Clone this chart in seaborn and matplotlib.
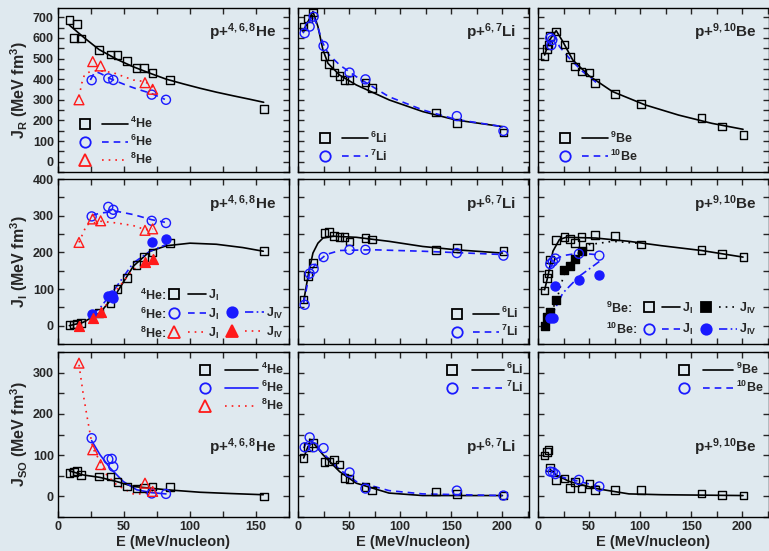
import numpy as np
import matplotlib
matplotlib.use("Agg")
import matplotlib.pyplot as plt
import seaborn as sns
from matplotlib.lines import Line2D
from matplotlib.legend_handler import HandlerTuple
from matplotlib.ticker import MultipleLocator

# ---------------- data: real part J_R ----------------
he4_E = [8.6, 12.1, 14.6, 17.4, 31, 39.9, 45, 52.3, 59.6, 65.2, 71.7, 85, 156]
he4_JR = [686, 600, 667, 597, 541, 520, 517, 489, 453, 453, 431, 396, 254]
he4_JR_fitE = [8.6, 20, 31, 45, 57, 70, 82, 95, 107.6, 120, 133, 145, 155.8]
he4_JR_fit = [662, 600, 544, 495, 460, 428, 400, 377, 356, 337, 319, 303, 288]

he6_E = [25.5, 38.1, 41.9, 71, 81.8]
he6_JR = [395, 404, 396, 325, 300]
he6_JR_fitE = [24.5, 27, 29, 33, 38, 45, 52, 60, 71, 81]
he6_JR_fit = [396, 425, 436, 425, 407, 388, 370, 352, 330, 302]

he8_E = [15.9, 26.3, 32.3, 65.9, 71.7]
he8_JR = [300, 485, 464, 383, 351]
he8_JR_fitE = [16, 18, 20, 24, 29, 35, 42, 50, 57, 66, 72]
he8_JR_fit = [316, 380, 420, 436, 441, 438, 431, 412, 396, 388, 361]

li6_E = [5.5, 9.8, 14.6, 26, 30.2, 35.1, 40.7, 45.5, 50.4, 66, 72.5, 135, 155.4, 201]
li6_JR = [655, 695, 723, 513, 474, 432, 416, 396, 396, 383, 356, 238, 189, 141]
li6_JR_fitE = [4.9, 9.8, 14.6, 19.5, 24.4, 29.3, 40.7, 57, 89.4, 122, 154.5, 200]
li6_JR_fit = [631, 679, 728, 655, 542, 477, 420, 372, 299, 243, 202, 170]

li7_E = [6.5, 11.4, 15.3, 25, 50.4, 66, 155.4, 201]
li7_JR = [623, 655, 703, 561, 432, 399, 221, 149]
li7_JR_fitE = [4.9, 9, 14.6, 19.5, 24.4, 30, 40.7, 57, 89, 122, 154.5, 200]
li7_JR_fit = [623, 660, 711, 650, 574, 520, 469, 412, 315, 251, 205, 170]

be9_E = [6.5, 8.7, 10.4, 12, 17.8, 25.9, 31.4, 36.2, 42.7, 50.2, 55.7, 75.4, 100.6, 160, 180, 201]
be9_JR = [509, 545, 566, 610, 631, 569, 506, 461, 437, 432, 380, 328, 280, 213, 170, 129]
be9_JR_fitE = [6.5, 11.3, 17.8, 24.3, 34, 50, 72.8, 105, 137.5, 170, 200.6]
be9_JR_fit = [517, 590, 635, 582, 493, 416, 340, 275, 226, 186, 157]

be10_E_R = [12, 13, 14]
be10_JR = [600, 565, 590]
be10_JR_fitE = [11.3, 13, 16, 21, 30.7, 43.7, 60]
be10_JR_fit = [558, 590, 614, 558, 501, 437, 372]

# ---------------- data: imaginary part J_I / J_IV ----------------
he4_JI = [1, 3, 5, 7, 35, 60, 100, 130, 165, 187, 200, 225, 203]
he4_JI_fitE = [8.6, 19, 31.8, 44.4, 57, 69.7, 82.3, 100, 120, 140, 155.5]
he4_JI_fit = [0, 9, 35, 89, 162, 203, 218, 225, 222, 213, 203]

he6_EI = [25.5, 38.1, 40.7, 41.9, 71, 81.8]
he6_JI = [298, 324, 305, 316, 286, 280]
he6_JI_fitE = [25.5, 31.8, 44.4, 57, 71, 81]
he6_JI_fit = [300, 307, 312, 303, 289, 282]
he6_JIV = [33, 80, 85, 76, 227, 236]
he6_JIV_fitE = [25.5, 31.8, 44.4, 57, 69.7, 81.8]
he6_JIV_fit = [30, 48, 107, 171, 203, 221]

he8_JI = [227, 291, 286, 260, 264]
he8_JI_fitE = [15.9, 21.7, 31.8, 44.4, 57, 66, 72]
he8_JI_fit = [227, 275, 285, 280, 273, 262, 264]
he8_JIV = [0, 21, 36, 175, 182]
he8_JIV_fitE = [15.9, 31.8, 44.4, 57, 72]
he8_JIV_fit = [3, 32, 98, 153, 185]

li6_JI = [71, 135, 171, 253, 255, 244, 241, 241, 230, 239, 235, 207, 212, 203]
li6_JI_fitE = [5.5, 9.8, 14.6, 19.5, 24.4, 34, 57, 89, 122, 154.5, 200]
li6_JI_fit = [66, 135, 198, 225, 239, 244, 241, 230, 216, 207, 198]

li7_JI = [57, 142, 155, 187, 207, 207, 198, 191]
li7_JI_fitE = [5.5, 11.4, 17.9, 27.6, 40.7, 73, 122, 200]
li7_JI_fit = [62, 144, 171, 194, 205, 207, 203, 194]

be9_JI = [96, 130, 142, 180, 233, 242, 237, 225, 241, 216, 248, 245, 221, 207, 196, 187]
be9_JI_fitE = [6.5, 9.7, 14.6, 21, 27.5, 56.6, 89, 121, 160, 200.6]
be9_JI_fit = [98, 135, 203, 235, 241, 239, 230, 218, 205, 187]
be9_EIV = [6.5, 8.7, 12, 17.8, 25.9, 31.4, 36.2, 42.7]
be9_JIV = [0, 24, 36, 69, 151, 162, 182, 205]
be9_JIV_fitE = [6.5, 17.8, 25.9, 37, 50, 73, 100.6]
be9_JIV_fit = [3, 66, 144, 194, 221, 230, 224]

be10_E = [12, 14.5, 17, 40, 60]
be10_JI = [168, 175, 183, 196, 191]
be10_JI_fitE = [11.3, 16.2, 24.3, 40.5, 60]
be10_JI_fit = [153, 180, 191, 198, 193]
be10_JIV = [21, 22, 107, 125, 139]
be10_JIV_fitE = [12.9, 24.3, 40.5, 60]
be10_JIV_fit = [25, 89, 135, 175]

# ---------------- data: spin-orbit J_SO ----------------
he4_JSO = [56, 59, 62, 52, 48, 48, 35, 24, 19, 20, 24, 22, 0]
he4_JSO_fitE = [8.6, 19, 31.8, 44.4, 57, 82.3, 107.6, 130, 155.5]
he4_JSO_fit = [62, 52, 46, 36, 24, 16, 10, 7, 4]

he6_JSO = [141, 90, 91, 72, 7, 6]
he6_JSO_fitE = [25.5, 31.8, 39.4, 49.5, 59.6, 71, 81.8]
he6_JSO_fit = [135, 101, 69, 36, 16, 9, 6]

he8_JSO = [323, 113, 77, 32, 12]
he8_JSO_fitE = [15.9, 19.2, 22.2, 26.3, 31.8, 36.9, 44.4, 57, 64.6, 71.7]
he8_JSO_fit = [319, 246, 190, 117, 85, 52, 28, 6, 6, 12]

li6_JSO = [93, 119, 129, 83, 85, 89, 77, 44, 42, 22, 14, 12, 6, 2]
li6_JSO_fitE = [5.5, 9.8, 14.6, 24.4, 40.7, 57, 89, 122, 200]
li6_JSO_fit = [93, 121, 131, 101, 60, 32, 8, 2, 2]

li7_JSO = [119, 143, 119, 117, 58, 19, 14, 2]
li7_JSO_fitE = [5.5, 10.7, 15.3, 24.4, 40.7, 57, 89, 122, 200]
li7_JSO_fit = [117, 141, 129, 105, 65, 36, 14, 6, 2]

be9_JSO = [99, 107, 113, 70, 40, 43, 20, 35, 19, 30, 16, 15, 15, 7, 3, 2]
be9_JSO_fitE = [12, 17.8, 30.7, 56.6, 89, 121, 200.6]
be9_JSO_fit = [65, 52, 36, 19, 6, 4, 2]

be10_JSO = [60, 59, 54, 40, 24]
be10_JSO_fitE = [11.3, 24.3, 40.5, 60]
be10_JSO_fit = [62, 46, 36, 24]

# ---------------- style ----------------
sns.set_theme(style="ticks")
plt.rcParams["font.family"] = ["Liberation Sans", "DejaVu Sans"]
plt.rcParams["font.weight"] = "bold"
plt.rcParams["mathtext.fontset"] = "custom"
plt.rcParams["mathtext.rm"] = "Liberation Sans:bold"
plt.rcParams["mathtext.bf"] = "Liberation Sans:bold"
plt.rcParams["mathtext.it"] = "Liberation Sans:bold"
plt.rcParams["mathtext.default"] = "bf"

BG = "#dfe9ef"
BLUE = "#1a1aff"
RED = "#ff1a1a"
DASH = (0, (4, 3))
DOT = (0, (1, 3))
DASHDOT = (0, (5, 2, 1, 2))
MS = {"s": 30, "o": 42, "^": 50}

fig = plt.figure(figsize=(7.69, 5.51), dpi=100, facecolor=BG)

W, H = 769, 551
col_left = [58, 298, 538]
col_w = 231
row_top = [8, 179, 352]
row_bot = [172, 344, 517]

axes = [[None] * 3 for _ in range(3)]
for r in range(3):
    for c in range(3):
        ax = fig.add_axes([col_left[c] / W, 1 - row_bot[r] / H, col_w / W,
                           (row_bot[r] - row_top[r]) / H])
        ax.set_facecolor("none")
        axes[r][c] = ax


def series(ax, E, J, fE, fJ, color, marker, ls, filled=False):
    sns.lineplot(x=fE, y=fJ, ax=ax, color=color, linestyle=ls, lw=1.2,
                 sort=False, estimator=None, legend=False)
    sns.scatterplot(x=E, y=J, ax=ax, marker=marker, s=MS[marker],
                    facecolor=color if filled else "none", edgecolor=color,
                    linewidth=1.0, zorder=3, legend=False)


def hnd(marker, color, ls, filled=False):
    m = Line2D([], [], ls="none", marker=marker, ms=7.5 if marker != "^" else 8.5,
               mfc=color if filled else "none", mec=color, mew=1.3)
    l = Line2D([], [], color=color, ls=ls, lw=1.2)
    return (m, l)


blank = Line2D([], [], ls="none")
hmap = {tuple: HandlerTuple(ndivide=None, pad=0.3)}
lprop = {"weight": "bold", "size": 9}


def simple_legend(ax, handles, labels, loc, anchor, hl=4.4):
    ax.legend(handles, labels, handler_map=hmap, loc=loc, bbox_to_anchor=anchor,
              handlelength=hl, frameon=False, prop=lprop, labelspacing=0.22,
              handletextpad=0.2, borderpad=0.3)


def prefixed_legend(ax, prefixes, handles, labels, xp, xh, y, ls=0.3, hl=3.0):
    leg = ax.legend([blank] * len(prefixes), prefixes, loc="lower left",
                    bbox_to_anchor=(xp, y), handlelength=0, handletextpad=0,
                    frameon=False, prop=lprop, labelspacing=ls, borderpad=0.3)
    ax.add_artist(leg)
    ax.legend(handles, labels, ncol=2, handler_map=hmap, loc="lower left",
              bbox_to_anchor=(xh, y), handlelength=hl, frameon=False, prop=lprop,
              labelspacing=ls, handletextpad=0.15, columnspacing=0.3, borderpad=0.3)


# ---- row 1: J_R ----
ax = axes[0][0]
series(ax, he4_E, he4_JR, he4_JR_fitE, he4_JR_fit, "black", "s", "-")
series(ax, he6_E, he6_JR, he6_JR_fitE, he6_JR_fit, BLUE, "o", DASH)
series(ax, he8_E, he8_JR, he8_JR_fitE, he8_JR_fit, RED, "^", DOT)
simple_legend(ax, [hnd("s", "black", "-"), hnd("o", BLUE, DASH), hnd("^", RED, DOT)],
              ["$^4$He", "$^6$He", "$^8$He"], "lower left", (0.02, -0.03))

ax = axes[0][1]
series(ax, li6_E, li6_JR, li6_JR_fitE, li6_JR_fit, "black", "s", "-")
series(ax, li7_E, li7_JR, li7_JR_fitE, li7_JR_fit, BLUE, "o", DASH)
simple_legend(ax, [hnd("s", "black", "-"), hnd("o", BLUE, DASH)],
              ["$^6$Li", "$^7$Li"], "lower left", (0.02, -0.01))

ax = axes[0][2]
series(ax, be9_E, be9_JR, be9_JR_fitE, be9_JR_fit, "black", "s", "-")
series(ax, be10_E_R, be10_JR, be10_JR_fitE, be10_JR_fit, BLUE, "o", DASH)
simple_legend(ax, [hnd("s", "black", "-"), hnd("o", BLUE, DASH)],
              ["$^9$Be", "$^{10}$Be"], "lower left", (0.02, -0.01))

# ---- row 2: J_I ----
ax = axes[1][0]
series(ax, he4_E, he4_JI, he4_JI_fitE, he4_JI_fit, "black", "s", "-")
series(ax, he6_EI, he6_JI, he6_JI_fitE, he6_JI_fit, BLUE, "o", DASH)
series(ax, he6_EI, he6_JIV, he6_JIV_fitE, he6_JIV_fit, BLUE, "o", DASHDOT, filled=True)
series(ax, he8_E, he8_JI, he8_JI_fitE, he8_JI_fit, RED, "^", DOT)
series(ax, he8_E, he8_JIV, he8_JIV_fitE, he8_JIV_fit, RED, "^", DOT, filled=True)
prefixed_legend(ax, ["$^4$He:", "$^6$He:", "$^8$He:"],
                [hnd("s", "black", "-"), hnd("o", BLUE, DASH), hnd("^", RED, DOT),
                 blank, hnd("o", BLUE, DASHDOT, True), hnd("^", RED, DOT, True)],
                ["J$_I$", "J$_I$", "J$_I$", "", "J$_{IV}$", "J$_{IV}$"],
                0.31, 0.42, -0.04, hl=3.3)

ax = axes[1][1]
series(ax, li6_E, li6_JI, li6_JI_fitE, li6_JI_fit, "black", "s", "-")
series(ax, li7_E, li7_JI, li7_JI_fitE, li7_JI_fit, BLUE, "o", DASH)
simple_legend(ax, [hnd("s", "black", "-"), hnd("o", BLUE, DASH)],
              ["$^6$Li", "$^7$Li"], "lower right", (1.0, -0.03))

ax = axes[1][2]
series(ax, be9_E, be9_JI, be9_JI_fitE, be9_JI_fit, "black", "s", "-")
series(ax, be9_EIV, be9_JIV, be9_JIV_fitE, be9_JIV_fit, "black", "s", DOT, filled=True)
series(ax, be10_E, be10_JI, be10_JI_fitE, be10_JI_fit, BLUE, "o", DASH)
series(ax, be10_E, be10_JIV, be10_JIV_fitE, be10_JIV_fit, BLUE, "o", DASHDOT, filled=True)
prefixed_legend(ax, ["$^9$Be:", "$^{10}$Be:"],
                [hnd("s", "black", "-"), hnd("o", BLUE, DASH),
                 hnd("s", "black", DOT, True), hnd("o", BLUE, DASHDOT, True)],
                ["J$_I$", "J$_I$", "J$_{IV}$", "J$_{IV}$"],
                0.25, 0.40, -0.02, ls=0.5, hl=3.2)

# ---- row 3: J_SO ----
ax = axes[2][0]
series(ax, he4_E, he4_JSO, he4_JSO_fitE, he4_JSO_fit, "black", "s", "-")
series(ax, he6_EI, he6_JSO, he6_JSO_fitE, he6_JSO_fit, BLUE, "o", "-")
series(ax, he8_E, he8_JSO, he8_JSO_fitE, he8_JSO_fit, RED, "^", DOT)
simple_legend(ax, [hnd("s", "black", "-"), hnd("o", BLUE, "-"), hnd("^", RED, DOT)],
              ["$^4$He", "$^6$He", "$^8$He"], "upper right", (1.02, 1.0), hl=5.6)

ax = axes[2][1]
series(ax, li6_E, li6_JSO, li6_JSO_fitE, li6_JSO_fit, "black", "s", "-")
series(ax, li7_E, li7_JSO, li7_JSO_fitE, li7_JSO_fit, BLUE, "o", DASH)
simple_legend(ax, [hnd("s", "black", "-"), hnd("o", BLUE, DASH)],
              ["$^6$Li", "$^7$Li"], "upper right", (1.02, 1.0), hl=5.4)

ax = axes[2][2]
series(ax, be9_E, be9_JSO, be9_JSO_fitE, be9_JSO_fit, "black", "s", "-")
series(ax, be10_E, be10_JSO, be10_JSO_fitE, be10_JSO_fit, BLUE, "o", DASH)
simple_legend(ax, [hnd("s", "black", "-"), hnd("o", BLUE, DASH)],
              ["$^9$Be", "$^{10}$Be"], "upper right", (1.02, 1.0), hl=5.2)

# ---- axes formatting ----
ylims = [(-50, 745), (-50, 400), (-50, 350)]
yticks = [np.arange(0, 701, 100), np.arange(0, 401, 100), np.arange(0, 301, 100)]
ylabels = ["J$_R$ (MeV fm$^3$)", "J$_I$ (MeV fm$^3$)", "J$_{SO}$ (MeV fm$^3$)"]
xlims = [(0, 175), (0, 226), (0, 226)]
xticks = [[0, 50, 100, 150], [0, 50, 100, 150, 200], [0, 50, 100, 150, 200]]
titles = ["p+$^{4,6,8}$He", "p+$^{6,7}$Li", "p+$^{9,10}$Be"]

for r in range(3):
    for c in range(3):
        ax = axes[r][c]
        ax.set_xlim(*xlims[c])
        ax.set_ylim(*ylims[r])
        ax.set_xticks(xticks[c])
        ax.set_yticks(yticks[r])
        ax.xaxis.set_minor_locator(MultipleLocator(25))
        ax.yaxis.set_minor_locator(MultipleLocator(50))
        ax.tick_params(which="both", direction="in", top=True, right=True,
                       length=4, width=1, labelsize=9, pad=3)
        for s in ax.spines.values():
            s.set_linewidth(1.0)
            s.set_color("black")
        ax.set_xlabel("")
        ax.set_ylabel("")
        if c == 0:
            ax.set_ylabel(ylabels[r], fontsize=11.5, fontweight="bold", labelpad=2)
        else:
            ax.tick_params(labelleft=False)
        if r == 2:
            ax.set_xlabel("E (MeV/nucleon)", fontsize=10.5, fontweight="bold", labelpad=1)
        else:
            ax.tick_params(labelbottom=False)
        for lab in ax.get_xticklabels() + ax.get_yticklabels():
            lab.set_fontweight("bold")
        ty = 0.42 if r == 2 else 0.85
        ax.text(0.945, ty, titles[c], transform=ax.transAxes, ha="right", va="center",
                fontsize=11, fontweight="bold")

fig.savefig("out.png", dpi=100, facecolor=BG)
